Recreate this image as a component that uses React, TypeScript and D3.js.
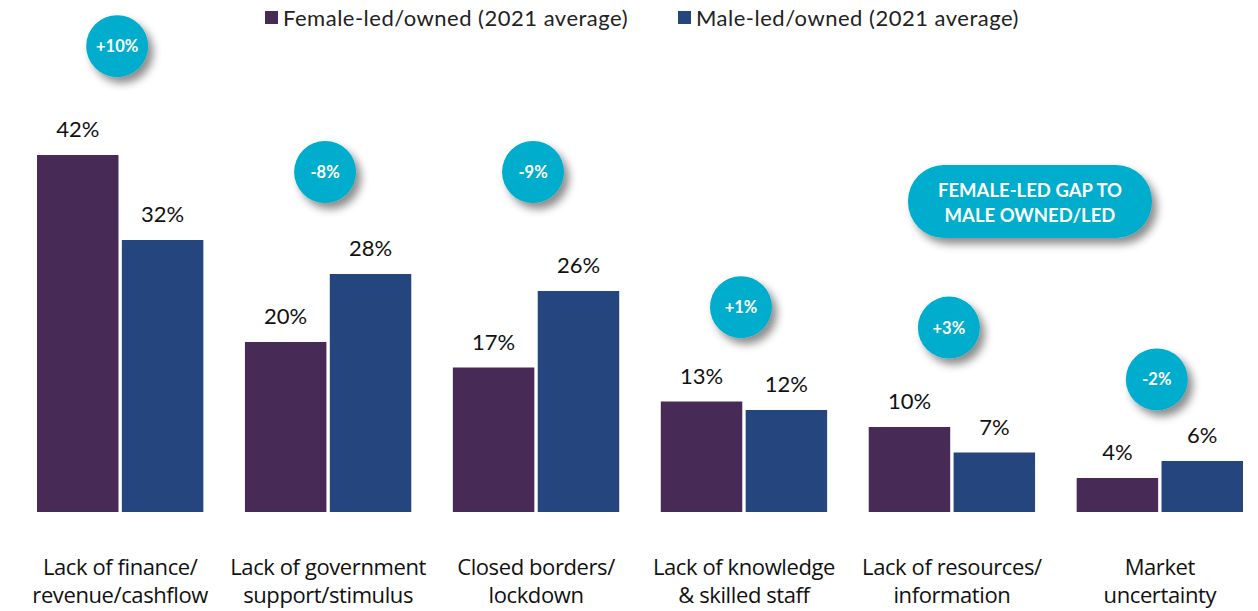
import React from "react";
import * as d3 from "d3";

const categories = [
  ["Lack of finance/", "revenue/cashflow"],
  ["Lack of government", "support/stimulus"],
  ["Closed borders/", "lockdown"],
  ["Lack of knowledge", "& skilled staff"],
  ["Lack of resources/", "information"],
  ["Market", "uncertainty"],
];
const femaleValues = [42, 20, 17, 13, 10, 4];
const maleValues = [32, 28, 26, 12, 7, 6];
const gapLabels = ["+10%", "-8%", "-9%", "+1%", "+3%", "-2%"];
// bubble height expressed in % units on the value axis
const bubbleLevels = [54.8, 40, 40, 24.1, 21.7, 15.6];
const seriesNames = ["Female-led/owned (2021 average)", "Male-led/owned (2021 average)"];
const seriesColors = ["#472a55", "#25457e"];

const W = 1258;
const H = 611;
const baseline = 512;

export default function App() {
  const x = d3.scaleBand<number>()
    .domain(d3.range(categories.length))
    .range([37, 1243])
    .paddingInner(0.2)
    .paddingOuter(0);

  const inner = d3.scaleBand<number>()
    .domain([0, 1])
    .range([0, x.bandwidth()])
    .paddingInner(0.04);

  const y = d3.scaleLinear().domain([0, 42]).range([baseline, 155]);

  const valueFont = "Lato, sans-serif";
  const labelFont = "'Open Sans', sans-serif";
  const bubbleFont = "Lato, sans-serif";

  return (
    <div style={{ position: "absolute", left: 0, top: 0 }}>
      <svg width={W} height={H} style={{ display: "block", background: "#fff" }}>
        <defs>
          <filter id="shadow" x="-50%" y="-50%" width="200%" height="200%">
            <feDropShadow dx="5" dy="6" stdDeviation="4" floodColor="#000" floodOpacity="0.45" />
          </filter>
        </defs>

        {/* legend */}
        <g fontFamily={valueFont} fontSize={22} fill="#222" letterSpacing={0.5}>
          <rect x={265} y={11} width={13} height={13} fill={seriesColors[0]} />
          <text x={283} y={26}>{seriesNames[0]}</text>
          <rect x={678} y={11} width={13} height={13} fill={seriesColors[1]} />
          <text x={696} y={26}>{seriesNames[1]}</text>
        </g>

        {categories.map((cat, i) => {
          const gx = x(i)!;
          const vals = [femaleValues[i], maleValues[i]];
          const cx = gx + x.bandwidth() / 2;
          return (
            <g key={i}>
              {vals.map((v, s) => (
                <g key={s}>
                  <rect
                    x={gx + inner(s)!}
                    y={y(v)}
                    width={inner.bandwidth()}
                    height={baseline - y(v)}
                    fill={seriesColors[s]}
                  />
                  <text
                    x={gx + inner(s)! + inner.bandwidth() / 2}
                    y={y(v) - 18}
                    textAnchor="middle"
                    fontFamily={valueFont}
                    fontSize={22}
                    fill="#111"
                  >
                    {v}%
                  </text>
                </g>
              ))}
              {cat.map((line, k) => (
                <text
                  key={k}
                  x={cx}
                  y={575 + k * 28}
                  textAnchor="middle"
                  fontFamily={labelFont}
                  fontSize={22}
                  letterSpacing={-0.4}
                  fill="#111"
                >
                  {line}
                </text>
              ))}
              <g filter="url(#shadow)">
                <circle cx={cx - 3} cy={y(bubbleLevels[i])} r={31} fill="#00adcc" />
              </g>
              <text
                x={cx - 3}
                y={y(bubbleLevels[i]) + 6}
                textAnchor="middle"
                fontFamily={bubbleFont}
                fontWeight="bold"
                fontSize={16.5}
                fill="#fff"
              >
                {gapLabels[i]}
              </text>
            </g>
          );
        })}

        {/* gap legend pill */}
        <g filter="url(#shadow)">
          <rect x={908} y={165} width={244} height={73} rx={36} fill="#00adcc" />
        </g>
        <g fontFamily={bubbleFont} fontWeight="bold" fontSize={18.5} fill="#fff" textAnchor="middle">
          <text x={1030} y={197}>FEMALE-LED GAP TO</text>
          <text x={1030} y={222}>MALE OWNED/LED</text>
        </g>
      </svg>
    </div>
  );
}
